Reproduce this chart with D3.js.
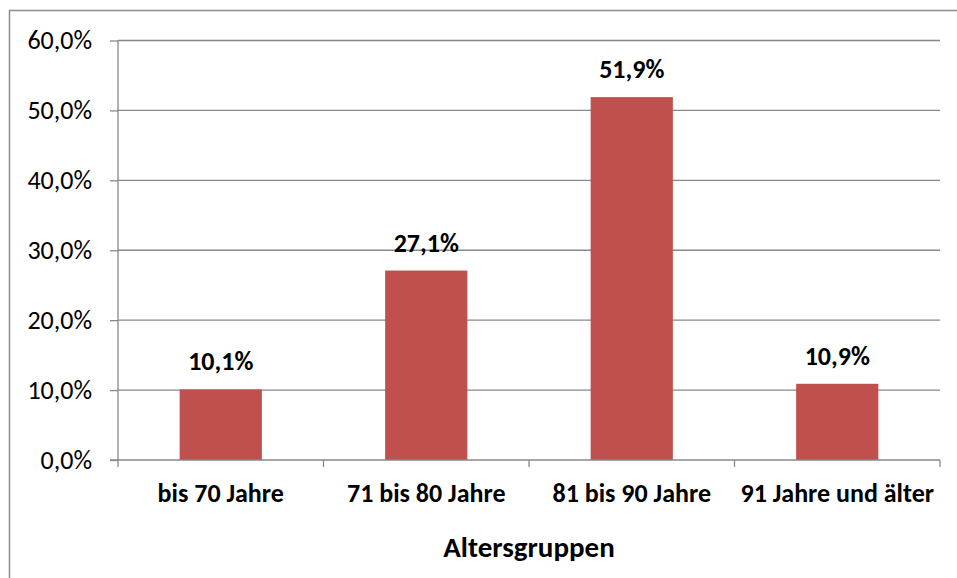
<!DOCTYPE html>
<html>
<head>
<meta charset="utf-8">
<script src="https://cdn.jsdelivr.net/npm/d3@7"></script>
<style>
  body { margin: 0; background: #fff; }
  svg text { font-family: Carlito, Lato, "Open Sans", sans-serif; fill: #000; }
</style>
</head>
<body>
<svg id="chart" width="957" height="578"></svg>
<script>
var categories = ['bis 70 Jahre', '71 bis 80 Jahre', '81 bis 90 Jahre', '91 Jahre und älter'];
var values = [10.1, 27.1, 51.9, 10.9];
var yTicks = [0, 10, 20, 30, 40, 50, 60];
var axisTitle = 'Altersgruppen';

var fmt = function (v, d) { return v.toFixed(d).replace('.', ',') + '%'; };

var svg = d3.select('#chart');
var plotLeft = 118, plotRight = 940, plotTop = 40.5, plotBottom = 460;

svg.append('rect')
    .attr('x', 9.5).attr('y', 10.5)
    .attr('width', 1000).attr('height', 1000)
    .attr('fill', 'none')
    .attr('stroke', '#8c8c8c')
    .attr('stroke-width', 1.5);

var x = d3.scaleBand().domain(categories).range([plotLeft, plotRight]);
var y = d3.scaleLinear().domain([0, 60]).range([plotBottom, plotTop]);

// gridlines
svg.append('g').selectAll('line')
    .data(yTicks.filter(function (t) { return t > 0; }))
    .join('line')
    .attr('x1', plotLeft).attr('x2', plotRight)
    .attr('y1', function (d) { return y(d); })
    .attr('y2', function (d) { return y(d); })
    .attr('stroke', '#888')
    .attr('stroke-width', 1.3);

// bars
var barW = x.bandwidth() * 0.4;
svg.append('g').selectAll('rect')
    .data(values)
    .join('rect')
    .attr('x', function (d, i) { return x(categories[i]) + (x.bandwidth() - barW) / 2; })
    .attr('y', function (d) { return y(d); })
    .attr('width', barW)
    .attr('height', function (d) { return plotBottom - y(d); })
    .attr('fill', '#c0504d');

// y axis
var yAxis = d3.axisLeft(y).tickValues(yTicks).tickSize(8).tickPadding(18)
    .tickFormat(function (d) { return fmt(d, 1); });
var gy = svg.append('g').attr('transform', 'translate(' + plotLeft + ',0)').call(yAxis);
gy.selectAll('line, path').attr('stroke', '#888').attr('stroke-width', 1.3);
gy.selectAll('text').attr('font-size', 26).attr('font-family', null);
gy.select('.domain').attr('d', 'M0,' + plotTop + 'V' + plotBottom);

// x axis
svg.append('line')
    .attr('x1', plotLeft - 8).attr('x2', plotRight)
    .attr('y1', plotBottom).attr('y2', plotBottom)
    .attr('stroke', '#888').attr('stroke-width', 1.3);
var bounds = categories.map(function (c) { return x(c); }).concat([plotRight]);
svg.append('g').selectAll('line')
    .data(bounds)
    .join('line')
    .attr('x1', function (d) { return d; }).attr('x2', function (d) { return d; })
    .attr('y1', plotBottom).attr('y2', plotBottom + 7)
    .attr('stroke', '#888').attr('stroke-width', 1.3);

svg.append('g').selectAll('text')
    .data(categories)
    .join('text')
    .attr('x', function (d) { return x(d) + x.bandwidth() / 2; })
    .attr('y', 502)
    .attr('text-anchor', 'middle')
    .attr('font-size', 26)
    .attr('font-weight', 'bold')
    .text(function (d) { return d; });

// value labels
svg.append('g').selectAll('text')
    .data(values)
    .join('text')
    .attr('x', function (d, i) { return x(categories[i]) + x.bandwidth() / 2; })
    .attr('y', function (d) { return y(d) - 19; })
    .attr('text-anchor', 'middle')
    .attr('font-size', 26)
    .attr('font-weight', 'bold')
    .text(function (d) { return fmt(d, 1); });

svg.append('text')
    .attr('x', (plotLeft + plotRight) / 2)
    .attr('y', 557)
    .attr('text-anchor', 'middle')
    .attr('font-size', 29)
    .attr('font-weight', 'bold')
    .text(axisTitle);
</script>
</body>
</html>
